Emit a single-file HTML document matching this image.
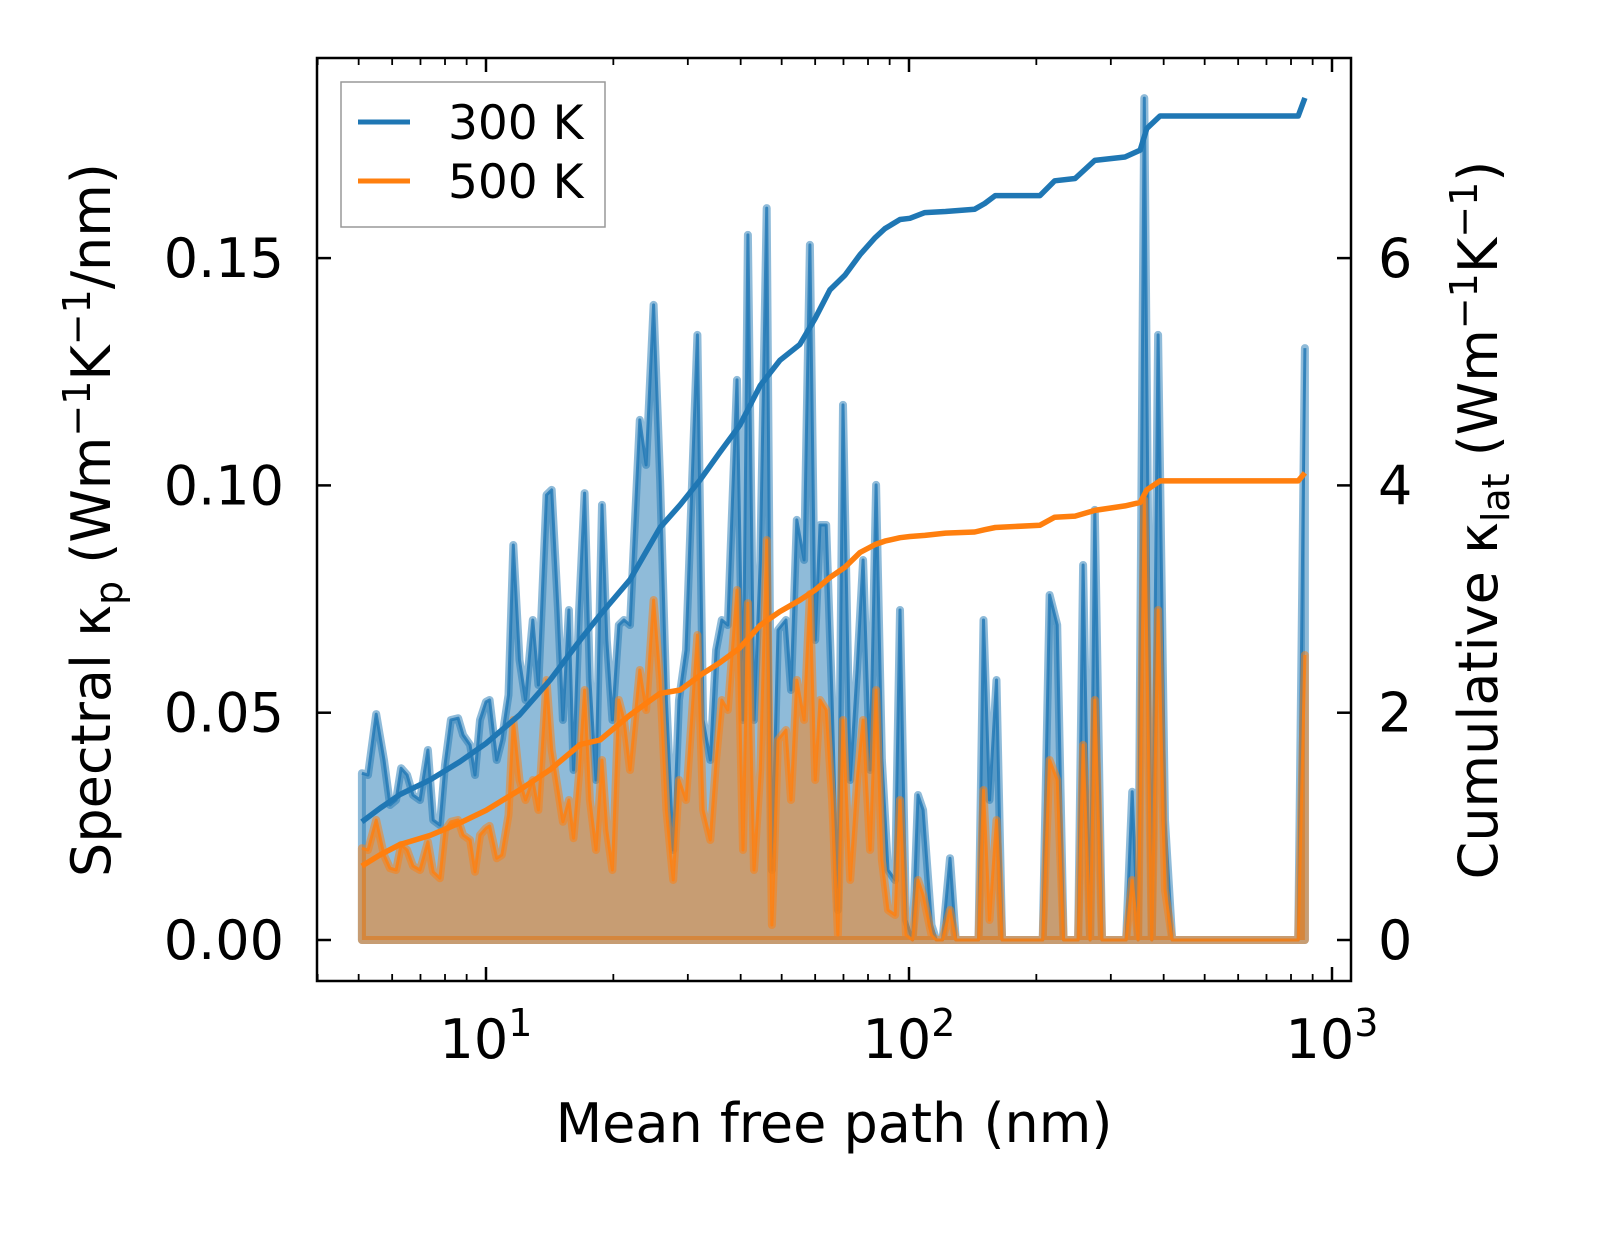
<!DOCTYPE html>
<html><head><meta charset="utf-8"><style>
html,body{margin:0;padding:0;background:#fff}
svg{display:block;font-family:"DejaVu Sans","Liberation Sans",sans-serif}
</style></head><body>
<svg id="chart" width="1623" height="1254" viewBox="0 0 1623 1254" xmlns="http://www.w3.org/2000/svg">
<defs><clipPath id="clip"><rect x="317" y="58" width="1034" height="923"/></clipPath></defs>
<g id="plot" clip-path="url(#clip)"></g>
<rect x="317" y="58" width="1034" height="923" fill="none" stroke="#000" stroke-width="2.5"/>
<g id="axes"></g>
<text x="110" y="520" font-size="54" text-anchor="middle" transform="rotate(-90 110 520)">Spectral κ<tspan font-size="38" dy="12">p</tspan><tspan dy="-12"> (Wm</tspan><tspan font-size="38" dy="-20">−1</tspan><tspan dy="20">K</tspan><tspan font-size="38" dy="-20">−1</tspan><tspan dy="20">/nm)</tspan></text>
<text x="1497" y="520" font-size="54" text-anchor="middle" transform="rotate(-90 1497 520)">Cumulative κ<tspan font-size="38" dy="12">lat</tspan><tspan dy="-12"> (Wm</tspan><tspan font-size="38" dy="-20">−1</tspan><tspan dy="20">K</tspan><tspan font-size="38" dy="-20">−1</tspan><tspan dy="20">)</tspan></text>
<text x="834" y="1142" font-size="54" text-anchor="middle">Mean free path (nm)</text>
<g>
<rect x="341" y="82" width="264" height="145" fill="#fff" stroke="#999" stroke-width="1.5"/>
<line x1="358" y1="122" x2="410" y2="122" stroke="#1f77b4" stroke-width="5"/>
<text x="448" y="139" font-size="47">300 K</text>
<line x1="358" y1="181" x2="410" y2="181" stroke="#ff7f0e" stroke-width="5"/>
<text x="448" y="198" font-size="47">500 K</text>
</g>
</svg>
<script>
const mfp = [5.09,5.26,5.50,5.74,5.93,6.13,6.30,6.51,6.72,6.98,7.29,7.50,7.78,8.00,8.26,8.59,8.83,9.17,9.42,9.68,10.0,10.2,10.6,10.9,11.3,11.6,12.0,12.4,12.9,13.3,13.9,14.3,14.8,15.2,15.7,16.1,16.6,17.1,17.6,18.2,18.8,19.3,19.9,20.6,21.2,21.9,23.1,23.9,24.9,25.8,26.7,27.7,28.6,29.7,31.6,32.6,33.9,35.0,36.1,37.3,39.2,40.5,41.6,43.0,44.5,46.1,47.4,49.0,51.2,52.6,54.3,56.5,58.3,60.0,61.6,63.7,65.8,67.9,69.8,72.6,75.4,77.9,80.9,83.6,86.3,89.2,92.7,95.2,98.4,102,105,108,113,116,120,125,129,146,150,155,161,166,207,215,224,232,251,258,268,275,286,326,337,348,360,375,388,403,419,832,863];
const spec300 = [.0367,.0363,.0497,.0396,.0297,.0308,.0378,.0363,.0319,.0308,.0418,.0264,.0253,.0385,.0484,.0488,.0451,.0429,.0363,.0484,.0524,.0528,.0396,.044,.0539,.0869,.0616,.0528,.0704,.0561,.0979,.099,.0726,.0484,.0726,.0374,.0726,.0983,.0572,.0352,.0957,.066,.0484,.0693,.0704,.0693,.1144,.1045,.1397,.1012,.0528,.0198,.0528,.0638,.1331,.0484,.0396,.0638,.0704,.0693,.1232,.0484,.1551,.0484,.0836,.161,.0154,.0682,.0704,.055,.0924,.0836,.1529,.066,.0913,.0913,.0528,.0066,.1177,.0352,.0594,.0836,.0374,.1001,.0396,.0154,.0132,.0726,.0044,0,.0319,.0286,.0033,0,0,.018,0,0,.0704,.0308,.0572,0,0,.0759,.0693,0,0,.0825,0,.0946,0,0,.0326,0,.1852,0,.1331,.0264,0,0,.1302];
const spec500 = [.0202,.0198,.0264,.0187,.0158,.0154,.0209,.0198,.0163,.0154,.0216,.015,.0136,.0242,.026,.0264,.0231,.022,.015,.0231,.0246,.0251,.018,.0187,.0275,.0484,.0352,.0308,.0352,.0286,.0572,.0418,.033,.026,.0308,.0224,.0367,.055,.0308,.0198,.0396,.0242,.0154,.0528,.0484,.0374,.0594,.0506,.0748,.0572,.0286,.0132,.0352,.0308,.0671,.0286,.022,.0396,.0528,.0506,.077,.0198,.0741,.0154,.0374,.088,.0033,.044,.0462,.0308,.0572,.0484,.0761,.0352,.0528,.0506,.0308,.0011,.0484,.0132,.0352,.0484,.0198,.055,.0176,.0066,.0055,.0308,.0011,0,.0132,.0099,.0011,0,0,.0066,0,0,.033,.0044,.0264,0,0,.0396,.0352,0,0,.0429,0,.0528,0,0,.0132,0,.0968,0,.0726,.011,0,0,.0627];
const cumMfp = [5.09,5.62,6.26,7.38,8.68,10.0,12.0,14.2,16.7,18.6,21.9,25.8,28.8,32.1,35.7,39.8,44.5,49.5,55.2,60.0,65.0,70.6,76.6,83.2,87.7,95.2,100.5,109,122,143,151,160,204,221,247,275,324,352,365,392,832,863];
const cum300 = [1.04,1.16,1.28,1.41,1.57,1.73,1.98,2.29,2.64,2.86,3.17,3.63,3.83,4.05,4.29,4.53,4.88,5.10,5.24,5.47,5.72,5.85,6.03,6.18,6.26,6.34,6.35,6.40,6.41,6.43,6.48,6.55,6.55,6.68,6.70,6.86,6.89,6.95,7.14,7.25,7.25,7.41];
const cum500 = [.65,.75,.84,.92,1.03,1.14,1.32,1.50,1.72,1.76,1.98,2.17,2.20,2.33,2.44,2.57,2.77,2.89,2.99,3.08,3.19,3.28,3.41,3.48,3.51,3.54,3.55,3.56,3.58,3.59,3.61,3.63,3.65,3.72,3.73,3.78,3.82,3.85,3.96,4.04,4.04,4.11];
const leftTicks = [0,0.05,0.10,0.15];
const leftTickLabels = ["0.00","0.05","0.10","0.15"];
const rightTicks = [0,2,4,6];
const xDecades = [1,2,3];

const NS="http://www.w3.org/2000/svg";
const X = v => 486 + (Math.log10(v)-1)*423;
const YL = v => 940 - v*4546;
const YR = v => 940 - v*113.65;
function mk(tag, attrs, parent){const e=document.createElementNS(NS,tag);for(const k in attrs)e.setAttribute(k,attrs[k]);parent.appendChild(e);return e;}
const plot=document.getElementById('plot'), axes=document.getElementById('axes');
function pts(xs,ys,fy){return xs.map((x,i)=>X(x).toFixed(1)+','+fy(ys[i]).toFixed(1)).join(' ');}
function area(xs,ys,color,name){
  const p = X(xs[0]).toFixed(1)+','+YL(0)+' '+pts(xs,ys,YL)+' '+X(xs[xs.length-1]).toFixed(1)+','+YL(0);
  const e=mk('polygon',{points:p,fill:color,'fill-opacity':0.5,stroke:color,'stroke-opacity':0.5,'stroke-width':8,'stroke-linejoin':'round'},plot);
  
  
  const l=mk('polyline',{points:pts(xs,ys,YL),fill:'none',stroke:color,'stroke-opacity':0.8,'stroke-width':3,'stroke-linejoin':'round'},plot);
  
  
}
area(mfp,spec300,'#1f77b4','spectral-300k');
area(mfp,spec500,'#ff7f0e','spectral-500k');
const c1=mk('polyline',{points:pts(cumMfp,cum300,YR),fill:'none',stroke:'#1f77b4','stroke-width':5.5,'stroke-linejoin':'round'},plot);


const c2=mk('polyline',{points:pts(cumMfp,cum500,YR),fill:'none',stroke:'#ff7f0e','stroke-width':5.5,'stroke-linejoin':'round'},plot);



leftTicks.forEach((v,i)=>{const y=YL(v);
  mk('line',{x1:317,y1:y,x2:331,y2:y,stroke:'#000','stroke-width':2.5},axes);
  const t=mk('text',{x:284,y:y+19,'font-size':54,'text-anchor':'end'},axes);t.textContent=leftTickLabels[i];
  
  
});
rightTicks.forEach(v=>{const y=YR(v);
  mk('line',{x1:1337,y1:y,x2:1351,y2:y,stroke:'#000','stroke-width':2.5},axes);
  const t=mk('text',{x:1378,y:y+19,'font-size':54,'text-anchor':'start'},axes);t.textContent=String(v);
  
  
});
for(let d=0;d<=3;d++){for(let m=1;m<10;m++){const v=m*Math.pow(10,d);const x=X(v);
  if(x<317||x>1351)continue;const L=(m===1)?14:7;
  mk('line',{x1:x,y1:981,x2:x,y2:981-L,stroke:'#000','stroke-width':(m===1)?2.5:1.8},axes);
  mk('line',{x1:x,y1:58,x2:x,y2:58+L,stroke:'#000','stroke-width':(m===1)?2.5:1.8},axes);
}}
xDecades.forEach(d=>{const x=X(Math.pow(10,d));
  const t=mk('text',{x:x,y:1058,'font-size':54,'text-anchor':'middle'},axes);
  
  
  t.innerHTML='10<tspan font-size="38" dy="-22">'+d+'</tspan>';
});
</script>
</body></html>
